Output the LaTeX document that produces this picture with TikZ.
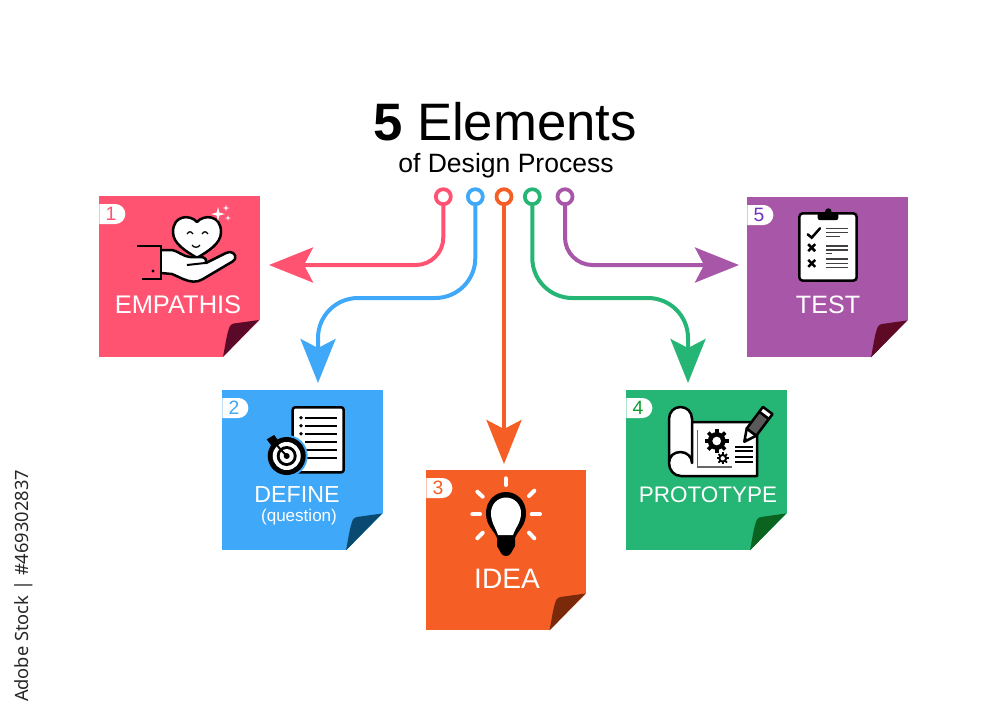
\documentclass[tikz,border=0pt]{standalone}
\usepackage{fontspec}
\setmainfont{Liberation Sans}
\newfontfamily\stockfont{Noto Sans}
\usepackage{tikz}
\usetikzlibrary{arrows.meta, shapes.misc}
\definecolor{pinkC}{HTML}{FF5371}
\definecolor{blueC}{HTML}{40A8F8}
\definecolor{orangeC}{HTML}{F55E25}
\definecolor{greenC}{HTML}{25B574}
\definecolor{purpleC}{HTML}{A857A8}
\definecolor{pinkD}{HTML}{5A0A28}
\definecolor{blueD}{HTML}{0A4A70}
\definecolor{orangeD}{HTML}{7A2A0A}
\definecolor{greenD}{HTML}{0A6420}
\definecolor{purpleD}{HTML}{5E0A25}
\newcommand{\fs}[1]{\fontsize{#1}{#1}\selectfont}
\newcommand{\foldcorner}[2]{
	\begin{scope}[shift={(#1.south east)}]
		\fill[white] (0.5,0.5) -- (0.5,-37.5) -- (-37.5,0.5) -- cycle;
		\fill[#2] (-37,0) .. controls (-35,-10) and (-33,-25) .. (-30,-31) .. controls (-29,-33) and (-27,-33) .. (-26,-33.5) -- (-1,-37) -- cycle;
	\end{scope}
}
\newcommand{\sparkle}[3]{
	\begin{scope}[shift={(#1,#2)}]
		\fill[white] (-#3,0) -- (-#3*0.2,-#3*0.2) -- (0,-#3) -- (#3*0.2,-#3*0.2) -- (#3,0) -- (#3*0.2,#3*0.2) -- (0,#3) -- (-#3*0.2,#3*0.2) -- cycle;
	\end{scope}
}
\newcommand{\gearicon}[3]{
	\begin{scope}[shift={(#1,#2)}]
		\fill[black] (0,0) circle[radius=#3*0.74];
		\foreach \a in {0,45,...,315}
			\draw[black,line width=#3*0.006cm] (\a:#3*0.6) -- (\a:#3);
		\fill[white] (0,0) circle[radius=#3*0.36];
	\end{scope}
}

\begin{document}
\begin{tikzpicture}[x=0.02cm,y=-0.02cm,>={Stealth[length=8.8mm,width=7mm,inset=1.8mm]}]
	\tikzstyle{sheet}=[rectangle,minimum size=3.22cm,inner sep=0pt,outer sep=0pt]
	\tikzstyle{badge}=[rounded rectangle,rounded rectangle west arc=none,fill=white,minimum width=0.52cm,minimum height=0.4cm,inner sep=0pt,anchor=west,font=\fs{11}]
	\tikzstyle{caption}=[text=white,inner sep=0pt]
	\tikzstyle{ring}=[circle,draw,fill=white,line width=0.075cm,minimum size=0.3cm,inner sep=0pt]
	\tikzstyle{flow}=[->,line width=0.08cm]
	\tikzstyle{ink}=[draw=black,fill=white,line width=0.05cm,line join=round,line cap=round]
	\tikzstyle{rule}=[black,line width=0.04cm]
	\tikzstyle{thin rule}=[black!75,line width=0.03cm]
	\tikzstyle{ray}=[white,line width=0.08cm,line cap=round]
	\useasboundingbox (0,0) rectangle (1000,714);

	\node[inner sep=0pt] (title) at (505,122) {\fs{30}\textbf{5} Elements};
	\node[inner sep=0pt] (subtitle) at (506,166) {\fs{15.1}of Design Process};
	\node[rotate=90,inner sep=0pt,text=black!85] (stock) at (24,586) {\stockfont\fs{10.4}Adobe Stock | \#469302837};

	\node[sheet,fill=pinkC] (empathis) at (179.5,276.5) {};
	\node[sheet,fill=blueC] (define) at (302.5,470) {};
	\node[sheet,fill=orangeC] (idea) at (506,550) {};
	\node[sheet,fill=greenC] (prototype) at (706.5,470) {};
	\node[sheet,fill=purpleC] (test) at (827.5,277) {};
	\foldcorner{empathis}{pinkD}
	\foldcorner{define}{blueD}
	\foldcorner{idea}{orangeD}
	\foldcorner{prototype}{greenD}
	\foldcorner{test}{purpleD}

	\node[badge,text=pinkC] (num1) at (99,214) {1};
	\node[badge,text=blueC] (num2) at (222,408) {2};
	\node[badge,text=orangeC] (num3) at (426,488) {3};
	\node[badge,text=green!55!black!60!greenC] (num4) at (626,408) {4};
	\node[badge,text=violet!60!blue!80!white] (num5) at (747,215) {5};

	\node[caption,font=\fs{14.5}] (empathisLab) at (178,305) {EMPATHIS};
	\node[caption,font=\fs{13.2}] (defineLab) at (297,495) {DEFINE};
	\node[caption,font=\fs{9.7}] (questionLab) at (299,517.5) {(question)};
	\node[caption,font=\fs{16}] (ideaLab) at (507,579) {IDEA};
	\node[caption,font=\fs{12.8}] (prototypeLab) at (708,495) {PROTOTYPE};
	\node[caption,font=\fs{14.3}] (testLab) at (828,305) {TEST};

	\node[ring,draw=pinkC] (ring1) at (443.3,196.7) {};
	\node[ring,draw=blueC] (ring2) at (475.3,196.7) {};
	\node[ring,draw=orangeC] (ring3) at (504,196.7) {};
	\node[ring,draw=greenC] (ring4) at (532.3,196.7) {};
	\node[ring,draw=purpleC] (ring5) at (565,196.7) {};
	\coordinate (tip1) at (269,265);
	\coordinate (bend2) at (318,298);
	\coordinate (tip2) at (318,383);
	\coordinate (tip3) at (504,464);
	\coordinate (bend4) at (688,298);
	\coordinate (tip4) at (688,383);
	\coordinate (tip5) at (739,265);
	\draw[flow,pinkC,rounded corners=0.55cm] (ring1) |- (tip1);
	\draw[flow,blueC,rounded corners=0.8cm] (ring2) |- (bend2) -- (tip2);
	\draw[flow,orangeC] (ring3) -- (tip3);
	\draw[flow,greenC,rounded corners=0.8cm] (ring4) |- (bend4) -- (tip4);
	\draw[flow,purpleC,rounded corners=0.55cm] (ring5) |- (tip5);

	% hand and heart
	\draw[ink] (197,222) .. controls (190,214) and (173,215) .. (173,232) .. controls (173,244) and (186,251) .. (197,258) .. controls (208,251) and (221,244) .. (221,232) .. controls (221,215) and (204,214) .. (197,222) -- cycle;
	\draw[black,line width=0.025cm] (187,234) .. controls (189,231) and (191,231) .. (193,234);
	\draw[black,line width=0.025cm] (202,234) .. controls (204,231) and (206,231) .. (208,234);
	\draw[black,line width=0.025cm] (192,245) .. controls (194,248) and (198,248) .. (200,245);
	\sparkle{218}{214}{7}
	\sparkle{226}{208}{3.5}
	\sparkle{228}{218}{3}
	\draw[ink] (161,250) -- (172,250) .. controls (178,251) and (182,256) .. (190,257) -- (202,257) .. controls (206,258) and (207,261) .. (206,263) -- (226,253) .. controls (231,250) and (237,254) .. (235,259) .. controls (234,261) and (232,262) .. (230,263) -- (203,279) .. controls (197,283) and (190,282) .. (183,279) -- (172,274) -- (161,273);
	\draw[rule] (187,265) -- (205,263);
	\draw[rule] (137,246) -- (161,246) -- (161,279) -- (142,279);
	\fill[black] (153,271) circle[radius=1.7];

	% paper and target
	\draw[ink,rounded corners=0.05cm] (292.7,407.3) rectangle (343.7,472.3);
	\foreach \y in {417.7,425.7,433.7} {
		\fill[black] (301,\y) circle[radius=1.8];
		\draw[rule] (305,\y) -- (337,\y);
	}
	\foreach \y in {441.7,450,458}
		\draw[rule] (305,\y) -- (337,\y);
	\fill[blueC] (286.7,456) circle[radius=21];
	\fill[black] (286.7,456) circle[radius=19];
	\fill[white] (286.7,456) circle[radius=14];
	\fill[black] (286.7,456) circle[radius=10];
	\fill[white] (286.7,456) circle[radius=7];
	\fill[black] (286.7,456) circle[radius=3];
	\draw[black,line width=0.04cm] (286.7,456) -- (272,440);
	\fill[black] (266.7,439.3) -- (274.3,435) -- (280,443.3) -- (273.3,448.3) -- cycle;

	% bulb
	\draw[ray] (505.7,478.3) -- (505.7,485);
	\draw[ray] (477.3,491.7) -- (482.7,496.7);
	\draw[ray] (534.3,490.7) -- (529,496);
	\draw[ray] (472.3,514.3) -- (480,514.3);
	\draw[ray] (531.7,514.3) -- (540,514.3);
	\draw[ray] (477.3,538.3) -- (482.7,532.7);
	\draw[ray] (534.3,538.3) -- (529,532.7);
	\fill[black] (497,538) .. controls (494,530) and (486,526) .. (486,513) .. controls (486,501) and (495,492) .. (506,492) .. controls (517,492) and (526,501) .. (526,513) .. controls (526,526) and (518,530) .. (515,538) -- (515,546) -- (511,553) .. controls (509,557) and (503,557) .. (501,553) -- (497,546) -- cycle;
	\fill[white] (498,535) .. controls (496,528) and (491,523) .. (491,513) .. controls (491,505) and (497,497.5) .. (506,497.5) .. controls (515,497.5) and (521,505) .. (521,513) .. controls (521,523) and (515,528) .. (513,535) -- cycle;

	% blueprint
	\draw[ink] (692,422) -- (757,422) -- (757,476) -- (681,476) .. controls (674,476) and (669,470) .. (669,463) -- (669,419) .. controls (669,412) and (674,407) .. (680.5,407) .. controls (687,407) and (692,412) .. (692,419) -- (692,463) .. controls (692,457) and (687,452) .. (680.5,452) .. controls (674,452) and (669,456) .. (669,463);
	\draw[black!60,line width=0.024cm] (697.7,430) -- (697.7,467) -- (731.7,467);
	\gearicon{716.7}{441}{12}
	\gearicon{722.7}{458.3}{6}
	\foreach \y in {446.7,451.3,456.7,461.7}
		\draw[rule] (735,\y) -- (753.3,\y);
	\draw[ink] (744.3,441.7) -- (746.7,428.5) -- (756.3,435.7) -- cycle;
	\draw[ink,fill=black!65] (746.7,428.5) -- (759.3,411.7) -- (768.9,418.9) -- (756.3,435.7) -- cycle;
	\draw[ink] (759.3,411.7) -- (762.9,406.9) -- (772.5,414.1) -- (768.9,418.9) -- cycle;
	\fill[black] (744.3,441.7) -- (745,437.5) -- (748,439.6) -- cycle;

	% clipboard
	\draw[ink,rounded corners=0.07cm] (799.3,213.3) rectangle (856.7,280.7);
	\fill[black] (828.3,211.5) circle[radius=3.2];
	\fill[black,rounded corners=0.04cm] (817.7,213) rectangle (838.3,220);
	\draw[rule,line width=0.05cm,line cap=round] (807.7,234.3) -- (811.7,237.7) -- (820,228.3);
	\draw[rule,line width=0.05cm] (808.2,244.2) -- (815.2,251.2);
	\draw[rule,line width=0.05cm] (815.2,244.2) -- (808.2,251.2);
	\draw[rule,line width=0.05cm] (808.2,259.8) -- (815.2,266.8);
	\draw[rule,line width=0.05cm] (815.2,259.8) -- (808.2,266.8);
	\foreach \y in {228.3,232.7,246,250,259,263.3,267.7}
		\draw[thin rule] (826,\y) -- (848.3,\y);
	\draw[thin rule] (826,236.7) -- (840,236.7);
	\draw[thin rule] (826,253.6) -- (832,253.6);
\end{tikzpicture}
\end{document}
